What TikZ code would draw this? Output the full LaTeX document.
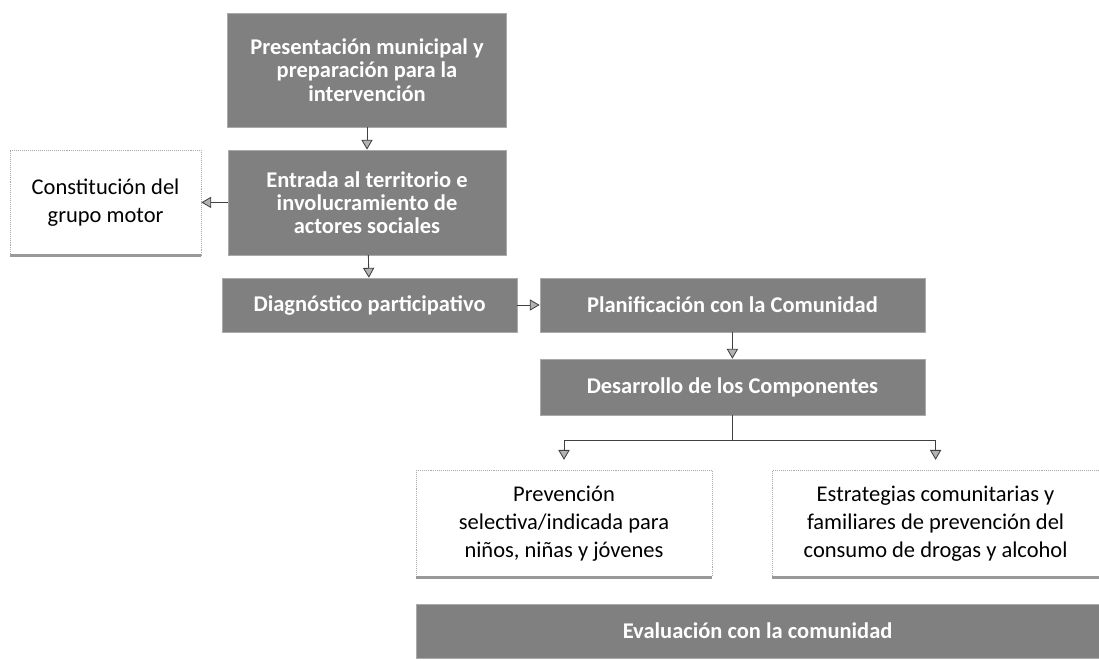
\documentclass[tikz,border=0pt]{standalone}
\usepackage{fontspec}
\setmainfont{Carlito}
\usetikzlibrary{arrows.meta, positioning, calc}
\definecolor{stepgray}{RGB}{128, 128, 128}
\definecolor{edgegray}{RGB}{170, 170, 170}

\begin{document}
\begin{tikzpicture}[
  graybox/.style={draw=edgegray, fill=stepgray, text=white, font=\fontsize{16}{16.5}\selectfont\bfseries, align=center, inner sep=2pt, minimum width=#1},
  plainbox/.style={draw=edgegray, densely dotted, fill=white, font=\fontsize{16}{20}\selectfont, align=center, inner sep=2pt, minimum width=#1,
    append after command={(\tikzlastnode.south west) edge[solid, line width=2pt, draw=black!40] (\tikzlastnode.south east)}},
  arr/.style={-{Triangle[length=7pt, width=8pt, fill=black!30]}, draw=black!75, semithick},
]
  \useasboundingbox (0,0) rectangle (27.475,16.5);

  \node[graybox=6.975cm, minimum height=2.85cm] (pres) at (9.175, 14.75) {Presentación municipal y\\preparación para la\\intervención};
  \node[graybox=6.95cm, minimum height=2.625cm] (entr) at (9.175, 11.44) {Entrada al territorio e\\involucramiento de\\actores sociales};
  \node[plainbox=4.775cm, minimum height=2.625cm] (grupo) at (2.64, 11.44) {Constitución del\\grupo motor};
  \node[graybox=7.375cm, minimum height=1.35cm] (diag) at (9.24, 8.875) {Diagnóstico participativo};
  \node[graybox=9.625cm, minimum height=1.35cm] (plan) at (18.31, 8.875) {Planificación con la Comunidad};
  \node[graybox=9.625cm, minimum height=1.4cm] (comp) at (18.31, 6.825) {Desarrollo de los Componentes};
  \node[plainbox=7.4cm, minimum height=2.675cm] (prev) at (14.1, 3.41) {Prevención\\selectiva/indicada para\\niños, niñas y jóvenes};
  \node[plainbox=8.175cm, minimum height=2.675cm] (estr) at (23.39, 3.41) {Estrategias comunitarias y\\familiares de prevención del\\consumo de drogas y alcohol};
  \node[graybox=17.075cm, minimum height=1.35cm] (eval) at (18.94, 0.725) {Evaluación con la comunidad};

  \coordinate (split) at (18.31, 5.5);

  \draw[arr] (pres) -- (entr);
  \draw[arr] (entr) -- (grupo);
  \draw[arr] (entr) -- (diag);
  \draw[arr] (diag) -- (plan);
  \draw[arr] (plan) -- (comp);
  \draw[draw=black!75, semithick] (comp) -- (split);
  \draw[arr, shorten >=0.25cm] (split) -| (prev);
  \draw[arr, shorten >=0.25cm] (split) -| (estr);
\end{tikzpicture}
\end{document}
